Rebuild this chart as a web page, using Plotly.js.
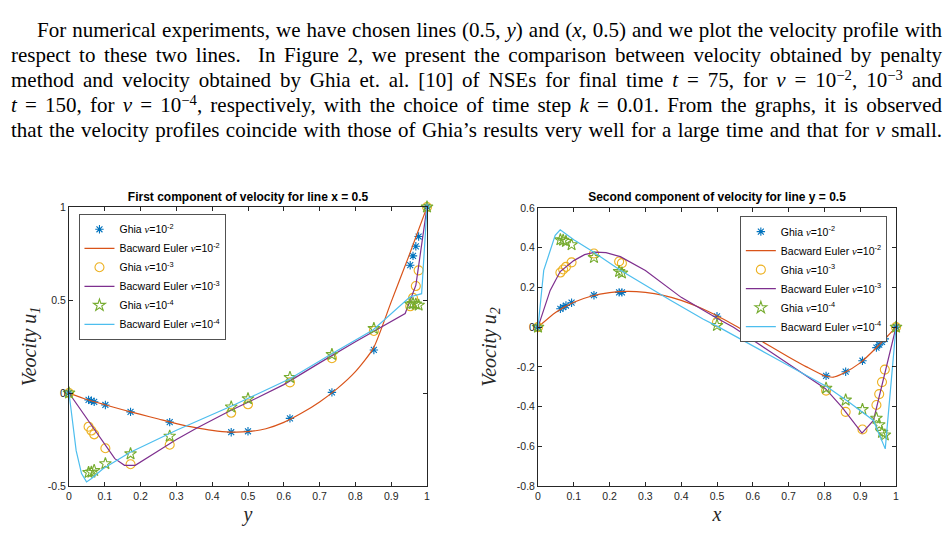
<!DOCTYPE html>
<html>
<head>
<meta charset="utf-8">
<script src="https://cdn.plot.ly/plotly-3.0.1.min.js"></script>
<style>
  html, body { margin: 0; padding: 0; background: #fff; width: 949px; height: 534px; overflow: hidden; }
  #para { position: absolute; left: 11px; top: 18px; width: 931px;
          font-family: 'Liberation Serif', 'DejaVu Serif', serif; font-size: 21px; line-height: 25px; color: #000; }
  #para .ln { text-align: justify; text-align-last: justify; height: 25px; }
  #para .ln.first { text-indent: 26px; }
  #para sup { font-size: 70%; line-height: 0; vertical-align: baseline; position: relative; top: -0.5em; }
  #plotU { position: absolute; left: 0; top: 180px; width: 470px; height: 354px; }
  #plotV { position: absolute; left: 470px; top: 180px; width: 479px; height: 354px; }
</style>
</head>
<body>
<div id="para">
  <div class="ln first">For numerical experiments, we have chosen lines (0.5, <i>y</i>) and (<i>x</i>, 0.5) and we plot the velocity profile with</div>
  <div class="ln">respect to these two lines.&nbsp; In Figure 2, we present the comparison between velocity obtained by penalty</div>
  <div class="ln">method and velocity obtained by Ghia et. al. [10] of NSEs for final time <i>t</i> = 75, for <i>ν</i> = 10<sup>−2</sup>, 10<sup>−3</sup> and</div>
  <div class="ln"><i>t</i> = 150, for <i>ν</i> = 10<sup>−4</sup>, respectively, with the choice of time step <i>k</i> = 0.01. From the graphs, it is observed</div>
  <div class="ln">that the velocity profiles coincide with those of Ghia’s results very well for a large time and that for <i>ν</i> small.</div>
</div>
<div id="plotU"></div>
<div id="plotV"></div>
<script>
// ---- Ghia et al. reference values, first component u1 along the line x = 0.5 ----
const ghiaY = [1.0000, 0.9766, 0.9688, 0.9609, 0.9531, 0.8516, 0.7344, 0.6172, 0.5000, 0.4531, 0.2813, 0.1719, 0.1016, 0.0703, 0.0625, 0.0547, 0.0000];
const ghiaU_nu2 = [1, 0.84123, 0.78871, 0.73722, 0.68717, 0.23151, 0.00332, -0.13641, -0.20581, -0.21090, -0.15662, -0.10150, -0.06434, -0.04775, -0.04192, -0.03717, 0];
const ghiaU_nu3 = [1, 0.65928, 0.57492, 0.51117, 0.46604, 0.33304, 0.18719, 0.05702, -0.06080, -0.10648, -0.27805, -0.38289, -0.29730, -0.22220, -0.20196, -0.18109, 0];
const ghiaU_nu4 = [1, 0.47221, 0.47783, 0.48070, 0.47804, 0.34635, 0.20673, 0.08344, -0.03111, -0.07540, -0.23186, -0.32709, -0.38000, -0.41657, -0.42537, -0.42735, 0];

// ---- Backward Euler profiles, u1 along x = 0.5 ----
const beU_nu2_y = [0, 0.05, 0.1, 0.15, 0.2, 0.25, 0.3, 0.35, 0.4, 0.45, 0.5, 0.55, 0.6, 0.65, 0.7, 0.75, 0.8, 0.85, 0.9, 0.95, 1];
const beU_nu2   = [0, -0.035, -0.063, -0.09, -0.115, -0.14, -0.165, -0.185, -0.201, -0.21, -0.208, -0.192, -0.158, -0.108, -0.048, 0.025, 0.115, 0.24, 0.49, 0.74, 1];
const beU_nu3_y = [0, 0.128, 0.155, 0.185, 0.25, 0.3, 0.356, 0.45, 0.5, 0.6, 0.7, 0.8, 0.939, 0.969, 1];
const beU_nu3   = [0, -0.353, -0.389, -0.389, -0.31, -0.25, -0.19, -0.095, -0.05, 0.045, 0.162, 0.276, 0.427, 0.58, 1];
const beU_nu4_y = [0, 0.007, 0.02, 0.035, 0.049, 0.063, 0.095, 0.17, 0.3, 0.459, 0.617, 0.733, 0.85, 0.952, 0.985, 1];
const beU_nu4   = [0, -0.11, -0.31, -0.433, -0.478, -0.46, -0.407, -0.32, -0.2, -0.066, 0.077, 0.21, 0.34, 0.516, 0.534, 1];

// ---- Ghia et al. reference values, second component u2 along the line y = 0.5 ----
const ghiaX = [1.0000, 0.9688, 0.9609, 0.9531, 0.9453, 0.9063, 0.8594, 0.8047, 0.5000, 0.2344, 0.2266, 0.1563, 0.0938, 0.0781, 0.0703, 0.0625, 0.0000];
const ghiaV_nu2 = [0, -0.05906, -0.07391, -0.08864, -0.10313, -0.16914, -0.22445, -0.24533, 0.05454, 0.17527, 0.17507, 0.16077, 0.12317, 0.10890, 0.10091, 0.09233, 0];
const ghiaV_nu3 = [0, -0.21388, -0.27669, -0.33714, -0.39188, -0.51550, -0.42665, -0.31966, 0.02526, 0.32235, 0.33075, 0.37095, 0.32627, 0.30353, 0.29012, 0.27485, 0];
const ghiaV_nu4 = [0, -0.54302, -0.52987, -0.49099, -0.45863, -0.41496, -0.36737, -0.30719, 0.00831, 0.27224, 0.28003, 0.35070, 0.41487, 0.43124, 0.43733, 0.43983, 0];

// ---- Backward Euler profiles, u2 along y = 0.5 ----
const beV_nu2_x = [0, 0.05, 0.1, 0.15, 0.2, 0.25, 0.3, 0.35, 0.4, 0.45, 0.5, 0.55, 0.6, 0.65, 0.7, 0.75, 0.8, 0.825, 0.85, 0.9, 0.95, 1];
const beV_nu2   = [0, 0.075, 0.125, 0.157, 0.174, 0.18, 0.175, 0.16, 0.135, 0.1, 0.057, 0.008, -0.045, -0.098, -0.15, -0.2, -0.245, -0.252, -0.235, -0.18, -0.095, 0];
const beV_nu3_x = [0, 0.034, 0.062, 0.1, 0.13, 0.16, 0.19, 0.23, 0.3, 0.4, 0.5, 0.546, 0.65, 0.803, 0.849, 0.905, 0.937, 1];
const beV_nu3   = [0, 0.185, 0.28, 0.335, 0.365, 0.378, 0.375, 0.355, 0.285, 0.15, 0.045, 0, -0.125, -0.31, -0.403, -0.534, -0.47, 0];
const beV_nu4_x = [0, 0.016, 0.048, 0.062, 0.1, 0.155, 0.23, 0.3, 0.37, 0.462, 0.5, 0.65, 0.807, 0.87, 0.937, 0.97, 1];
const beV_nu4   = [0, 0.286, 0.462, 0.49, 0.44, 0.378, 0.286, 0.21, 0.135, 0.04, 0.005, -0.144, -0.30, -0.38, -0.47, -0.613, 0];

// ---- tick labels ----
const xTickVals = [0, 0.1, 0.2, 0.3, 0.4, 0.5, 0.6, 0.7, 0.8, 0.9, 1];
const xTickText = ['0', '0.1', '0.2', '0.3', '0.4', '0.5', '0.6', '0.7', '0.8', '0.9', '1'];
const uTickVals = [-0.5, 0, 0.5, 1];
const uTickText = ['-0.5', '0', '0.5', '1'];
const vTickVals = [-0.8, -0.6, -0.4, -0.2, 0, 0.2, 0.4, 0.6];
const vTickText = ['-0.8', '-0.6', '-0.4', '-0.2', '0', '0.2', '0.4', '0.6'];

// ---- legend labels ----
const nu = '<span style="font-family:Liberation Serif"><i>ν</i></span>';
const legendNames = [
  'Ghia ' + nu + '=10<sup>-2</sup>',
  'Bacward Euler ' + nu + '=10<sup>-2</sup>',
  'Ghia ' + nu + '=10<sup>-3</sup>',
  'Bacward Euler ' + nu + '=10<sup>-3</sup>',
  'Ghia ' + nu + '=10<sup>-4</sup>',
  'Bacward Euler ' + nu + '=10<sup>-4</sup>'
];

const C = { blue: '#0072BD', orange: '#D95319', yellow: '#EDB120', purple: '#7E2F8E', green: '#77AC30', cyan: '#4DBEEE' };

function ghiaTrace(x, y, name, symbol, color, size) {
  return { x: x, y: y, name: name, type: 'scatter', mode: 'markers', cliponaxis: false,
           marker: { symbol: symbol, size: size, color: color, line: { color: color, width: 1.1 } } };
}
function lineTrace(x, y, name, color, shape) {
  return { x: x, y: y, name: name, type: 'scatter', mode: 'lines', cliponaxis: false,
           line: { color: color, width: 1.2, shape: shape || 'linear', smoothing: 0.6 } };
}

const tickFont = { family: 'Liberation Sans, Arial, sans-serif', size: 10.5, color: '#262626' };
const axisTitleFont = { family: 'Liberation Serif, serif', size: 20, color: '#262626' };

function axis(range, vals, text, title, standoff) {
  return {
    range: range, tickvals: vals, ticktext: text, ticks: 'inside', ticklen: 4, tickcolor: '#262626',
    showline: true, linecolor: '#262626', linewidth: 1, mirror: 'ticks',
    showgrid: false, zeroline: false, tickfont: tickFont, fixedrange: true, automargin: false,
    title: { text: title, font: axisTitleFont, standoff: standoff }
  };
}

function legendBox(x, y, xanchor) {
  return {
    x: x, y: y, xanchor: xanchor, yanchor: 'top', bgcolor: '#fff', bordercolor: '#262626', borderwidth: 0.8,
    font: { family: 'Liberation Sans, Arial, sans-serif', size: 10.5, color: '#000' },
    itemwidth: 30, tracegroupgap: 0
  };
}

const titleFont = { family: 'Liberation Sans, Arial, sans-serif', size: 12, color: '#000', weight: 'bold' };

// first component of velocity
const tracesU = [
  ghiaTrace(ghiaY, ghiaU_nu2, legendNames[0], 'asterisk-open', C.blue, 7),
  lineTrace(beU_nu2_y, beU_nu2, legendNames[1], C.orange, 'spline'),
  ghiaTrace(ghiaY, ghiaU_nu3, legendNames[2], 'circle-open', C.yellow, 9),
  lineTrace(beU_nu3_y, beU_nu3, legendNames[3], C.purple),
  ghiaTrace(ghiaY, ghiaU_nu4, legendNames[4], 'star-open', C.green, 9),
  lineTrace(beU_nu4_y, beU_nu4, legendNames[5], C.cyan)
];
const layoutU = {
  width: 470, height: 354, margin: { l: 69, r: 43, t: 27, b: 48 },
  paper_bgcolor: 'rgba(0,0,0,0)', plot_bgcolor: '#fff', showlegend: true,
  title: { text: '<b>First component of velocity for line x = 0.5</b>', font: titleFont,
           x: 0.5, xref: 'paper', xanchor: 'center', y: 0.952, yref: 'container', yanchor: 'middle' },
  xaxis: axis([0, 1], xTickVals, xTickText, '<i>y</i>', 6),
  yaxis: axis([-0.5, 1], uTickVals, uTickText, '<i>Veocity u</i><sub><i>1</i></sub>', 5),
  legend: legendBox(0.027, 0.975, 'left')
};

// second component of velocity
const tracesV = [
  ghiaTrace(ghiaX, ghiaV_nu2, legendNames[0], 'asterisk-open', C.blue, 7),
  lineTrace(beV_nu2_x, beV_nu2, legendNames[1], C.orange, 'spline'),
  ghiaTrace(ghiaX, ghiaV_nu3, legendNames[2], 'circle-open', C.yellow, 9),
  lineTrace(beV_nu3_x, beV_nu3, legendNames[3], C.purple),
  ghiaTrace(ghiaX, ghiaV_nu4, legendNames[4], 'star-open', C.green, 9),
  lineTrace(beV_nu4_x, beV_nu4, legendNames[5], C.cyan)
];
const layoutV = {
  width: 479, height: 354, margin: { l: 68, r: 53, t: 28, b: 48 },
  paper_bgcolor: 'rgba(0,0,0,0)', plot_bgcolor: '#fff', showlegend: true,
  title: { text: '<b>Second component of velocity for line y = 0.5</b>', font: titleFont,
           x: 0.5, xref: 'paper', xanchor: 'center', y: 0.952, yref: 'container', yanchor: 'middle' },
  xaxis: axis([0, 1], xTickVals, xTickText, '<i>x</i>', 6),
  yaxis: axis([-0.8, 0.6], vTickVals, vTickText, '<i>Veocity u</i><sub><i>2</i></sub>', 14),
  legend: legendBox(0.975, 0.97, 'right')
};

const config = { staticPlot: true, displayModeBar: false };
Plotly.newPlot('plotU', tracesU, layoutU, config);
Plotly.newPlot('plotV', tracesV, layoutV, config);
</script>
</body>
</html>
